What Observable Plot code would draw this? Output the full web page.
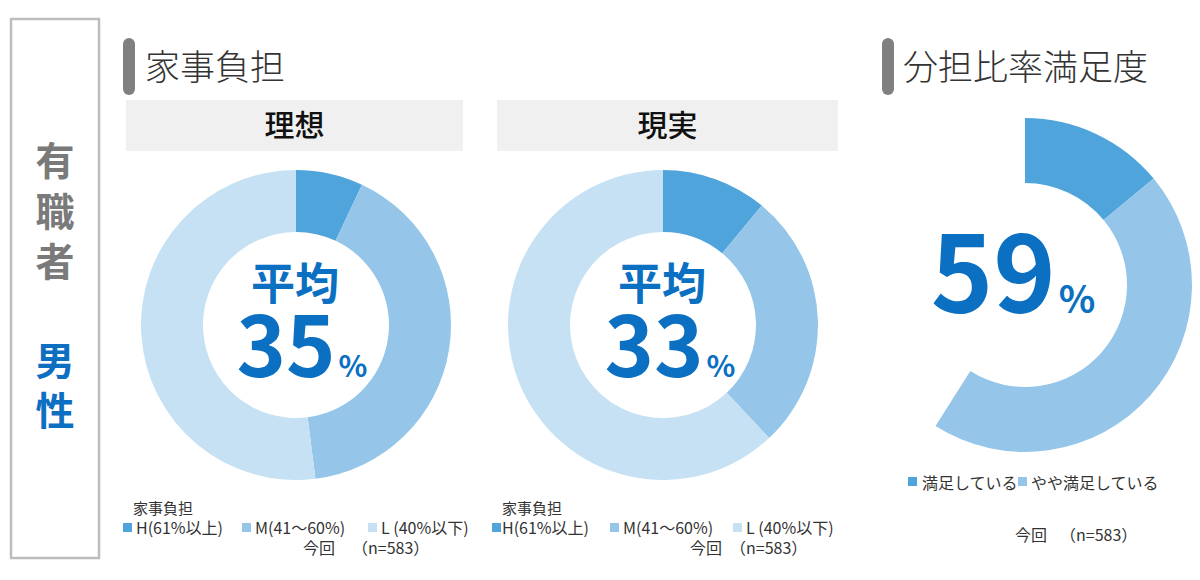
<!DOCTYPE html>
<html lang="ja">
<head>
<meta charset="utf-8">
<script src="https://cdn.jsdelivr.net/npm/d3@7"></script>
<script src="https://cdn.jsdelivr.net/npm/@observablehq/plot@0.6"></script>
<style>
  html, body { margin: 0; padding: 0; background: #fff; }
  #root { position: relative; width: 1200px; height: 580px; overflow: hidden; font-family: "Noto Sans CJK JP", "Noto Sans", sans-serif; }
  .abs { position: absolute; }
  #overlay { position: absolute; left: 0; top: 0; pointer-events: none; }
</style>
</head>
<body>
<div id="root"></div>
<script>
// ---- data ----
const burdenLabels = ["H(61%以上)", "M(41～60%)", "L (40%以下)"];
const idealValues = [7, 41, 52];     // 理想
const realValues = [11, 27, 62];     // 現実
const idealAverage = 35;
const realAverage = 33;
const satLabels = ["満足している", "やや満足している"];
const satValues = [14, 45];
const satTotal = 59;
const sampleSize = 583;
const panelTitles = ["家事負担", "分担比率満足度"];
const subTitles = ["理想", "現実"];
const colorsBurden = ["#4fa5db", "#95c6e9", "#c5e1f3"];
const colorsSat = ["#4fa5db", "#95c6e9"];

const root = document.getElementById("root");

function donut(labels, values, colors, {size, rOuter, rInner, total}) {
  let cum = 0;
  const data = labels.map((k, i) => {
    const d = {key: k, start: cum, end: cum + values[i]};
    cum += values[i];
    return d;
  });
  return Plot.plot({
    width: size, height: size, margin: 0,
    x: {domain: [-1, 1], axis: null},
    y: {domain: [-1, 1], axis: null},
    color: {domain: labels, range: colors},
    marks: [
      Plot.dot(data, {
        x: () => 0, y: () => 0, fill: "key",
        render: (index, scales, vals) => {
          const cx = scales.x(0), cy = scales.y(0);
          const unit = scales.x(1) - scales.x(0);
          const ang = d3.scaleLinear().domain([0, total]).range([0, 2 * Math.PI]);
          const arc = d3.arc();
          const g = d3.create("svg:g");
          g.selectAll("path").data(index).join("path")
            .attr("transform", `translate(${cx},${cy})`)
            .attr("d", i => arc({innerRadius: rInner * unit, outerRadius: rOuter * unit,
                                 startAngle: ang(data[i].start), endAngle: ang(data[i].end)}))
            .attr("fill", i => vals.fill[i]);
          return g.node();
        }
      })
    ]
  });
}

function place(el, left, top) {
  el.classList.add("abs");
  el.style.left = left + "px";
  el.style.top = top + "px";
  root.appendChild(el);
}

// donuts
place(donut(burdenLabels, idealValues, colorsBurden, {size: 320, rOuter: 155 / 160, rInner: 93 / 160, total: 100}), 136, 165);
place(donut(burdenLabels, realValues, colorsBurden, {size: 320, rOuter: 155 / 160, rInner: 93 / 160, total: 100}), 503, 165);
place(donut(satLabels, satValues, colorsSat, {size: 340, rOuter: 167 / 170, rInner: 102 / 170, total: 100}), 855, 115);

// overlay text / decorations
const svg = d3.create("svg").attr("id", "overlay").attr("width", 1200).attr("height", 580)
  .attr("font-family", '"Noto Sans CJK JP", "Noto Sans", sans-serif');

// left box
svg.append("rect").attr("x", 11).attr("y", 19).attr("width", 88).attr("height", 539)
  .attr("fill", "none").attr("stroke", "#bdbdbd").attr("stroke-width", 2.5);
const leftChars = [["有", 175, "#7a7a7a"], ["職", 226, "#7a7a7a"], ["者", 276, "#7a7a7a"], ["男", 375, "#0d6fc1"], ["性", 425, "#0d6fc1"]];
for (const [c, y, col] of leftChars) {
  svg.append("text").attr("x", 55).attr("y", y).attr("text-anchor", "middle")
    .attr("font-size", 39).attr("font-weight", 700).attr("fill", col).text(c);
}

// section title bars
for (const [bx, tx, t] of [[123, 145, panelTitles[0]], [882, 903, panelTitles[1]]]) {
  svg.append("rect").attr("x", bx).attr("y", 38).attr("width", 12).attr("height", 57).attr("rx", 6).attr("fill", "#808080");
  svg.append("text").attr("x", tx).attr("y", 80).attr("font-size", 35).attr("font-weight", 300).attr("fill", "#333").text(t);
}

// sub headers
for (const [x0, x1, t] of [[126, 463, subTitles[0]], [497, 838, subTitles[1]]]) {
  svg.append("rect").attr("x", x0).attr("y", 100).attr("width", x1 - x0).attr("height", 51).attr("fill", "#f0f0f0");
  svg.append("text").attr("x", (x0 + x1) / 2).attr("y", 136).attr("text-anchor", "middle")
    .attr("font-size", 30).attr("font-weight", 500).attr("fill", "#111").text(t);
}

// center texts
const blue = "#0b6fc2";
function centerText(cx, avg, cx2) {
  svg.append("text").attr("x", cx).attr("y", 300).attr("text-anchor", "middle")
    .attr("font-size", 44).attr("font-weight", 700).attr("fill", blue).text("平均");
  const t = svg.append("text").attr("x", cx2).attr("y", 377).attr("text-anchor", "middle").attr("fill", blue).attr("font-weight", 700);
  t.append("tspan").attr("font-size", 84).text(String(avg));
  t.append("tspan").attr("font-size", 30).attr("dx", 3).text("%");
}
centerText(295, idealAverage, 302);
centerText(662, realAverage, 670);

{
  const t = svg.append("text").attr("x", 1013).attr("y", 313).attr("text-anchor", "middle").attr("fill", blue).attr("font-weight", 700);
  t.append("tspan").attr("font-size", 106).text(String(satTotal));
  t.append("tspan").attr("font-size", 38).attr("dx", 3).text("%");
}

// legends
const legendColor = "#333";
function burdenLegend(titleX, items, noteX, nX) {
  svg.append("text").attr("x", titleX).attr("y", 514).attr("font-size", 15).attr("fill", legendColor).text(panelTitles[0]);
  items.forEach(([sx, tx], i) => {
    svg.append("rect").attr("x", sx).attr("y", 523).attr("width", 9).attr("height", 9).attr("fill", colorsBurden[i]);
    svg.append("text").attr("x", tx).attr("y", 534).attr("font-size", 16).attr("fill", legendColor).text(burdenLabels[i]);
  });
  svg.append("text").attr("x", noteX).attr("y", 554).attr("font-size", 16).attr("fill", legendColor).text("今回");
  svg.append("text").attr("x", nX).attr("y", 554).attr("font-size", 16).attr("fill", legendColor).text(`（n=${sampleSize}）`);
}
burdenLegend(133, [[123, 136], [242, 255], [368, 381]], 303, 352);
burdenLegend(502, [[492, 502], [610, 623], [733, 746]], 690, 730);

satLabels.forEach((l, i) => {
  const sx = [908, 1018][i], tx = [922, 1031][i];
  svg.append("rect").attr("x", sx).attr("y", 477).attr("width", 9).attr("height", 9).attr("fill", colorsSat[i]);
  svg.append("text").attr("x", tx).attr("y", 489).attr("font-size", 16).attr("fill", legendColor).text(l);
});
svg.append("text").attr("x", 1015).attr("y", 541).attr("font-size", 16).attr("fill", legendColor).text("今回");
svg.append("text").attr("x", 1060).attr("y", 541).attr("font-size", 16).attr("fill", legendColor).text(`（n=${sampleSize}）`);

root.appendChild(svg.node());
</script>
</body>
</html>
